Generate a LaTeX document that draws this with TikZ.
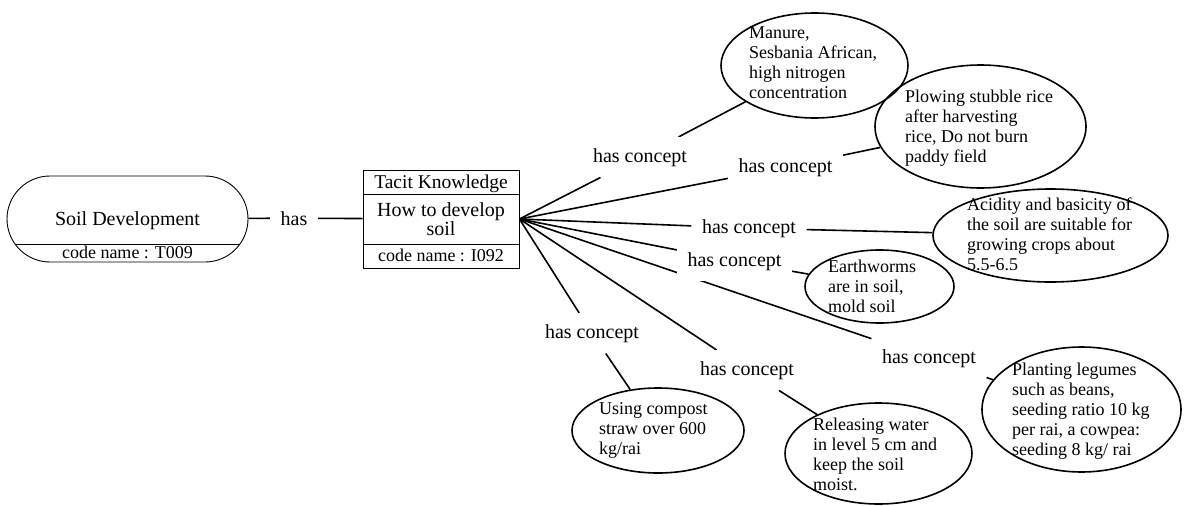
\documentclass[tikz,border=0pt]{standalone}
\usepackage{fontspec}
\setmainfont{Liberation Serif}
\usetikzlibrary{shapes.geometric,backgrounds}

\begin{document}
\begin{tikzpicture}[x=1pt,y=-1pt,
  thinline/.style={line width=0.9pt},
  conn/.style={line width=1.6pt},
  lbl/.style={font=\fontsize{20}{22}\selectfont, inner xsep=10.5pt, inner ysep=11pt, fill=white, anchor=base},
  idea/.style={ellipse, draw, line width=1.6pt, inner sep=0pt},
  itext/.style={font=\fontsize{18}{20}\selectfont, align=left, anchor=north west, inner sep=0pt},
  ctext/.style={anchor=base, inner sep=0pt},
]
\useasboundingbox (0,0) rectangle (1184,506);

% topic: Soil Development
\node[draw, thinline, rounded corners=43pt, minimum width=241pt, minimum height=86pt, inner sep=0pt] (soil) at (127.5,219) {};
\draw[thinline] (15,244) -- (240,244);
\node[ctext, font=\fontsize{20}{22}\selectfont] (soilname) at (127.5,225) {Soil Development};
\node[ctext, font=\fontsize{18}{20}\selectfont] (soilcode) at (127.5,258) {code name : T009};

% tacit knowledge item
\node[draw, thinline, minimum width=156pt, minimum height=98pt, inner sep=0pt] (tk) at (441,219) {};
\draw[thinline] (363,194) -- (519,194);
\draw[thinline] (363,244) -- (519,244);
\node[ctext, font=\fontsize{19.5}{22}\selectfont] (tktype) at (441,188) {Tacit Knowledge};
\node[ctext, font=\fontsize{20}{22}\selectfont] (tkname1) at (441,216) {How to develop};
\node[ctext, font=\fontsize{20}{22}\selectfont] (tkname2) at (441,235) {soil};
\node[ctext, font=\fontsize{18}{20}\selectfont] (tkcode) at (441,261) {code name : I092};

\coordinate (hub) at (tk.east);

% relation labels
\node[lbl] (has) at (294,225) {has};
\node[lbl] (c1) at (640,162) {has concept};
\node[lbl] (c2) at (785.5,172) {has concept};
\node[lbl] (c3) at (749,233) {has concept};
\node[lbl] (c5) at (929,363) {has concept};
\node[lbl] (c6) at (747,375) {has concept};
\node[lbl] (c7) at (592,338) {has concept};
\node[lbl] (c4) at (734.5,266) {has concept};

% concepts
\node[idea, minimum width=187pt, minimum height=105pt] (manure) at (814.5,65.5) {};
\node[idea, minimum width=211pt, minimum height=123pt] (plow) at (980.5,126.5) {};
\node[idea, minimum width=235pt, minimum height=93pt] (acid) at (1050.5,235.5) {};
\node[idea, minimum width=149pt, minimum height=73pt] (worm) at (879.5,286.5) {};
\node[idea, minimum width=172pt, minimum height=85pt] (compost) at (658,430.5) {};
\node[idea, minimum width=187pt, minimum height=101pt] (water) at (878.5,453.5) {};
\node[idea, minimum width=199pt, minimum height=125pt] (legume) at (1081.5,409.5) {};

\node[itext] (manuretext) at (749,26.5) {Manure,\\Sesbania African,\\high nitrogen\\concentration};
\node[itext] (plowtext) at (905,89.5) {Plowing stubble rice\\after harvesting\\rice, Do not burn\\paddy field};
\node[itext] (acidtext) at (967,197.5) {Acidity and basicity of\\the soil are suitable for\\growing crops about\\5.5-6.5};
\node[itext] (wormtext) at (828,259.5) {Earthworms\\are in soil,\\mold soil};
\node[itext] (composttext) at (599,402.5) {Using compost\\straw over 600\\kg/rai};
\node[itext] (watertext) at (813,417.5) {Releasing water\\in level 5 cm and\\keep the soil\\moist.};
\node[itext] (legumetext) at (1012,362.5) {Planting legumes\\such as beans,\\seeding ratio 10 kg\\per rai, a cowpea:\\seeding 8 kg/ rai};

% connectors, kept beneath the label boxes
\begin{pgfonlayer}{background}
  \draw[conn] (soil) -- (has);
  \draw[conn] (has) -- (tk);
  \foreach \c in {c1,c2,c3,c4,c5,c6,c7}
    \draw[conn] (hub) -- (\c);
  \draw[conn] (c1) -- (manure);
  \draw[conn] (c2) -- (plow);
  \draw[conn] (c3) -- (acid);
  \draw[conn] (c4) -- (worm);
  \draw[conn] (c5) -- (legume);
  \draw[conn] (c6) -- (water);
  \draw[conn] (c7) -- (compost);
\end{pgfonlayer}
\end{tikzpicture}
\end{document}
